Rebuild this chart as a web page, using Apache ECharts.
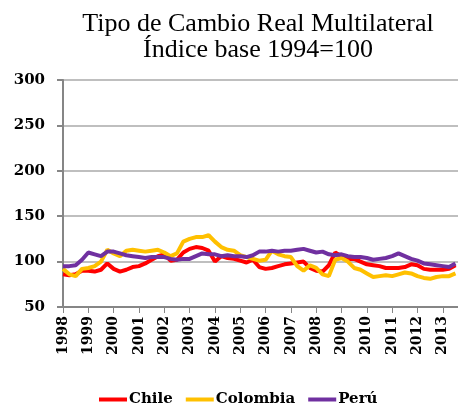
<!DOCTYPE html>
<html>
<head>
    <meta charset="utf-8">
    <title>Tipo de Cambio Real Multilateral</title>
    <script src="https://cdn.jsdelivr.net/npm/echarts@6/dist/echarts.min.js"></script>
    <style>
        html, body { margin: 0; padding: 0; background: #fff; }
        #chart { width: 458px; height: 405px; }
    </style>
</head>
<body>
<div id="chart"></div>
<script>
    // trimestral, 1998.0 ... 2013.5
    var fechas = [];
    for (var k = 0; k < 63; k++) fechas.push(1998 + k * 0.25);

    var chile = [
        86, 85, 86, 90,   90, 89, 91, 98,   92, 89, 91, 94,   95, 98, 102, 106,
        108, 101, 102, 110, 114, 116, 115, 112, 100, 106, 104, 103, 101, 99, 102, 94,
        92, 93, 95, 97,   98, 99, 100, 93,  90, 89, 96, 110,  106, 103, 103, 100,
        97, 96, 95, 93,   93, 93, 94, 97,   96, 92, 91, 91,   91, 92, 96
    ];
    var colombia = [
        92, 86, 84, 92,   93, 95, 100, 113, 109, 106, 112, 113, 112, 111, 112, 113,
        110, 106, 109, 122, 125, 127, 127, 129, 122, 116, 113, 112, 107, 105, 103, 101,
        102, 112, 108, 106, 105, 95, 90, 96,  93, 86, 84, 102,  104, 100, 93, 91,
        87, 83, 84, 85,   84, 86, 88, 87,   84, 82, 81, 83,   84, 84, 87
    ];
    var peru = [
        95, 95, 96, 102,  110, 108, 106, 111, 111, 109, 107, 106, 105, 104, 105, 105,
        105, 103, 102, 103, 103, 106, 109, 108, 108, 106, 107, 106, 106, 105, 107, 111,
        111, 112, 111, 112, 112, 113, 114, 112, 110, 111, 108, 107, 108, 106, 105, 105,
        104, 102, 103, 104, 106, 109, 106, 103, 101, 98, 97, 96,  95, 94, 98
    ];

    var nombres = ['Chile', 'Colombia', 'Perú'];
    var colores = ['#FF0000', '#FFC000', '#7030A0'];
    var valores = [chile, colombia, peru];

    function pares(v) {
        return v.map(function (y, i) { return [fechas[i], y]; });
    }

    var serif = 'DejaVu Serif';
    var myChart = echarts.init(document.getElementById('chart'));

    var option = {
        animation: false,
        color: colores,
        title: {
            text: 'Tipo de Cambio Real Multilateral\nÍndice base 1994=100',
            left: 253,
            top: 6,
            textAlign: 'center',
            textStyle: {
                fontFamily: 'Liberation Serif',
                fontWeight: 'normal',
                fontSize: 26,
                lineHeight: 26,
                color: '#000'
            }
        },
        legend: {
            top: 387,
            left: 94,
            icon: 'rect',
            itemWidth: 28,
            itemHeight: 4,
            itemGap: 13,
            textStyle: { fontFamily: serif, fontWeight: 'bold', fontSize: 15, color: '#000', padding: [0, 0, 0, -3] },
            data: nombres
        },
        grid: { left: 63, right: 0, top: 80, bottom: 98 },
        xAxis: {
            type: 'value',
            min: 1998,
            max: 2013.6,
            interval: 1,
            axisLine: { lineStyle: { color: '#868686', width: 2 } },
            axisTick: { length: 6, lineStyle: { color: '#868686', width: 1 } },
            splitLine: { show: false },
            axisLabel: {
                rotate: 90,
                margin: 9,
                showMaxLabel: false,
                fontFamily: serif,
                fontWeight: 'bold',
                fontSize: 14,
                color: '#000',
                formatter: function (v) { return String(Math.round(v)); }
            }
        },
        yAxis: {
            type: 'value',
            min: 50,
            max: 300,
            interval: 50,
            axisLine: { show: true, lineStyle: { color: '#868686', width: 2 } },
            axisTick: { show: true, length: 6, lineStyle: { color: '#868686', width: 2 } },
            splitLine: { lineStyle: { color: '#BFBFBF', width: 2 } },
            axisLabel: {
                margin: 18,
                fontFamily: serif,
                fontWeight: 'bold',
                fontSize: 15,
                color: '#000'
            }
        },
        series: valores.map(function (v, i) {
            return {
                name: nombres[i],
                type: 'line',
                showSymbol: false,
                symbol: 'none',
                lineStyle: { width: 4, color: colores[i] },
                itemStyle: { color: colores[i] },
                data: pares(v)
            };
        })
    };

    myChart.setOption(option);
</script>
</body>
</html>
